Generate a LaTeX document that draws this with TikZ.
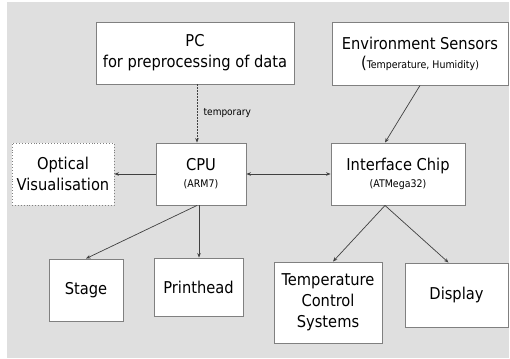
\documentclass[tikz,border=0pt]{standalone}
\usepackage{fontspec}
\setmainfont{DejaVu Sans Condensed}
\usetikzlibrary{arrows.meta,calc}
\definecolor{bg}{HTML}{DFDFDF}
\definecolor{bord}{HTML}{808080}
\definecolor{ln}{HTML}{404040}
\begin{document}
\begin{tikzpicture}[x=1pt,y=-1pt,
  box/.style={draw=bord,fill=white,line width=0.9pt,align=center,inner sep=0pt,font=\fontsize{16.3}{21}\selectfont},
  small/.style={font=\fontsize{10}{12}\selectfont},
  tip/.tip={Stealth[length=4.5pt,width=3.6pt]},
  conn/.style={draw=ln,line width=0.7pt,-tip},
]
\useasboundingbox (0,0) rectangle (510,358);
\fill[bg] (7,2) rectangle (509,358);

\node[box,minimum width=198pt,minimum height=62pt] (pc) at (195,53)
  {PC\\for preprocessing of data};
\node[box,minimum width=176pt,minimum height=63pt] (env) at (420,53.5)
  {Environment Sensors\\[-2pt]{\fontsize{16.3}{21}\selectfont(}{\fontsize{10.5}{13}\selectfont Temperature, Humidity)}};
\node[box,dotted,minimum width=102pt,minimum height=62pt] (opt) at (63,174)
  {Optical\\Visualisation};
\node[box,minimum width=90pt,minimum height=62pt] (cpu) at (201,174)
  {CPU\\[-4pt]{\fontsize{10.5}{13}\selectfont (ARM7)}};
\node[box,minimum width=134pt,minimum height=62pt] (ifc) at (398,174)
  {Interface Chip\\[-4pt]{\fontsize{10.5}{13}\selectfont (ATMega32)}};
\node[box,minimum width=74pt,minimum height=62pt] (stage) at (86,290) {Stage};
\node[box,minimum width=89pt,minimum height=58pt] (ph) at (198.5,287) {Printhead};
\node[box,minimum width=108pt,minimum height=81pt] (tcs) at (328,302.5)
  {Temperature\\Control\\Systems};
\node[box,minimum width=103pt,minimum height=64pt] (disp) at (456.5,295) {Display};

\draw[conn,dash pattern=on 1.5pt off 1.5pt] ([xshift=-4pt]cpu.north |- pc.south) -- ([xshift=-4pt]cpu.north)
  node[pos=0.5,right=3pt,small] (tmp) {temporary};
\draw[conn] (env.south) -- ([xshift=-13pt]ifc.north);
\draw[conn] (cpu.west) -- (opt.east);
\draw[conn,tip-tip] (cpu.east) -- (ifc.west);
\draw[conn] ([xshift=-4pt]cpu.south) -- (stage.north);
\draw[conn] ([xshift=-2pt]cpu.south) -- ([xshift=0.5pt]ph.north);
\draw[conn] ([xshift=-13pt]ifc.south) -- ([xshift=5pt]tcs.north);
\draw[conn] ([xshift=-13pt]ifc.south) -- ([xshift=-8pt]disp.north);
\end{tikzpicture}
\end{document}
